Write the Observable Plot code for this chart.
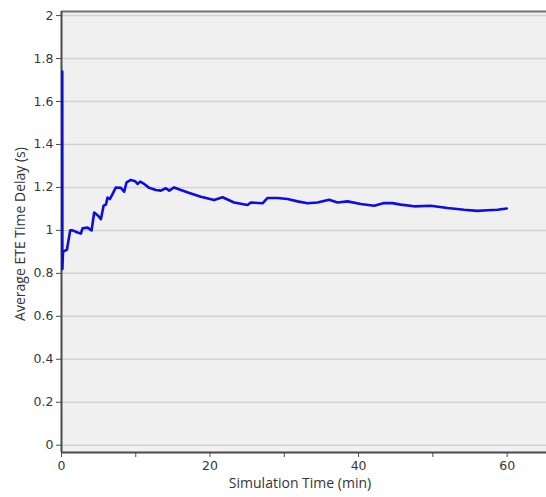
<!DOCTYPE html>
<html>
<head>
<meta charset="utf-8">
<script src="https://cdn.jsdelivr.net/npm/d3@7"></script>
<script src="https://cdn.jsdelivr.net/npm/@observablehq/plot@0.6"></script>
<style>
  html, body { margin: 0; padding: 0; background: #ffffff; }
</style>
</head>
<body>
<div id="chart"></div>
<script>
// Simulation time (min)
const times = [0.1, 0.12, 0.2, 0.73, 1.17, 1.49, 2.17, 2.61, 2.84, 3.51,
  4.05, 4.40, 4.94, 5.30, 5.67, 5.98, 6.20, 6.51, 6.88, 7.32,
  7.99, 8.44, 8.76, 9.34, 9.92, 10.24, 10.59, 11.13, 11.80, 12.71,
  13.38, 14.05, 14.50, 15.17, 16.07, 17.42, 18.76, 20.55, 21.68, 23.24,
  25.05, 25.49, 27.07, 27.74, 29.08, 30.43, 31.78, 33.12, 34.47, 36.03,
  37.16, 38.51, 40.30, 42.09, 43.43, 44.56, 45.68, 47.47, 49.72, 51.97,
  54.20, 56.00, 57.35, 58.69, 59.95];
// Average ETE time delay (s)
const delays = [1.74, 0.82, 0.90, 0.91, 1.0, 1.0, 0.99, 0.985, 1.01, 1.013,
  1.0, 1.083, 1.068, 1.052, 1.115, 1.12, 1.153, 1.146, 1.17, 1.20,
  1.198, 1.18, 1.224, 1.235, 1.229, 1.216, 1.227, 1.216, 1.198, 1.188,
  1.185, 1.196, 1.185, 1.2, 1.188, 1.172, 1.157, 1.141, 1.154, 1.13,
  1.118, 1.13, 1.126, 1.151, 1.151, 1.146, 1.135, 1.126, 1.13, 1.143,
  1.13, 1.135, 1.123, 1.115, 1.127, 1.127, 1.12, 1.112, 1.115, 1.104,
  1.096, 1.091, 1.094, 1.096, 1.102];

const yTicks = [0, 0.2, 0.4, 0.6, 0.8, 1, 1.2, 1.4, 1.6, 1.8, 2];
const xTicks = [0, 10, 20, 30, 40, 50, 60];
const xTickLabels = [0, 20, 40, 60];
const xTitle = "Simulation Time (min)";
const yTitle = "Average ETE Time Delay (s)";

const data = times.map((t, i) => ({t, v: delays[i]}));
const yDomain = [-0.034, 2.019];
const xDomain = [0, 65.3];

const chart = Plot.plot({
  width: 546,
  height: 497,
  marginLeft: 61,
  marginRight: 0,
  marginTop: 11,
  marginBottom: 45,
  style: {background: "#ffffff", fontFamily: "'DejaVu Sans', sans-serif", fontSize: "12.5px", color: "#383838"},
  x: {domain: xDomain},
  y: {domain: yDomain},
  marks: [
    Plot.frame({fill: "#f0f0f0", stroke: null}),
    Plot.gridY(yTicks, {stroke: "#d2d2d2", strokeOpacity: 1, strokeWidth: 1.5}),
    Plot.ruleY([yDomain[1]], {stroke: "#707070", strokeWidth: 2}),
    Plot.ruleY([yDomain[0]], {stroke: "#4a4a4a", strokeWidth: 2}),
    Plot.ruleX([0], {stroke: "#4a4a4a", strokeWidth: 2}),
    Plot.axisY(yTicks, {tickSize: 5, tickPadding: 3, stroke: "#4a4a4a", tickFormat: d => String(d), label: null}),
    Plot.axisX(xTicks, {tickSize: 5, tickPadding: 4, stroke: "#4a4a4a", tickFormat: d => xTickLabels.includes(d) ? String(d) : "", label: null}),
    Plot.line(data, {x: "t", y: "v", stroke: "#0c0ce6", strokeWidth: 2.6, strokeLinejoin: "round"}),
    Plot.text([yTitle], {frameAnchor: "left", textAnchor: "middle", dx: -41, dy: 2, rotate: -90, fontSize: 14, fontFamily: "'Open Sans', sans-serif", fill: "#333333"}),
    Plot.text([xTitle], {frameAnchor: "bottom", textAnchor: "middle", dx: -4, dy: 35, fontSize: 14, fontFamily: "'Open Sans', sans-serif", fill: "#333333"})
  ]
});
document.getElementById("chart").appendChild(chart);
</script>
</body>
</html>
